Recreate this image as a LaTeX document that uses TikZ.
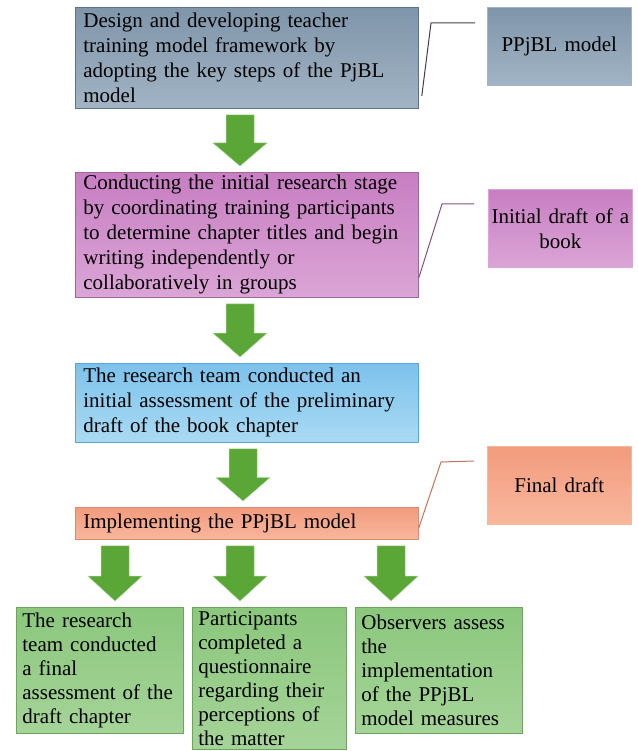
\documentclass[tikz,border=0pt]{standalone}
\usepackage{fontspec}
\setmainfont{Liberation Serif}
\usetikzlibrary{calc}
\definecolor{slateA}{HTML}{7F95AA}
\definecolor{slateB}{HTML}{A2B4C4}
\definecolor{slateD}{HTML}{5E7184}
\definecolor{orchidA}{HTML}{C77EC2}
\definecolor{orchidB}{HTML}{DBA5D6}
\definecolor{orchidD}{HTML}{A365A0}
\definecolor{skyA}{HTML}{7CC2EC}
\definecolor{skyB}{HTML}{AADAF3}
\definecolor{skyD}{HTML}{5BA6D6}
\definecolor{salmonA}{HTML}{F39B7D}
\definecolor{salmonB}{HTML}{F8B79D}
\definecolor{salmonD}{HTML}{DE8A6D}
\definecolor{leafA}{HTML}{8BC77D}
\definecolor{leafB}{HTML}{A5D498}
\definecolor{leafD}{HTML}{6AA65C}
\definecolor{arrowgreen}{HTML}{5AA637}
% block arrow: x position, upper node, lower node
\newcommand{\greenarrow}[3]{%
  \fill[arrowgreen,draw=arrowgreen!50!white,line width=0.5pt]
    let \p1=(#2.south), \p2=(#3.north) in
    ({#1pt-14pt},{\y1-6pt}) -- ({#1pt+14pt},{\y1-6pt})
    -- ({#1pt+14pt},{\y1-6pt+0.55*(\y2-\y1+12pt)}) -- ({#1pt+27pt},{\y1-6pt+0.55*(\y2-\y1+12pt)})
    -- ({#1pt},{\y2+6pt})
    -- ({#1pt-27pt},{\y1-6pt+0.55*(\y2-\y1+12pt)}) -- ({#1pt-14pt},{\y1-6pt+0.55*(\y2-\y1+12pt)}) -- cycle;}
\begin{document}
\begin{tikzpicture}[x=1pt,y=-1pt,
  mainbox/.style={anchor=north west,text width=327pt,inner xsep=8pt,inner ysep=2pt,align=left,
    font=\fontsize{21}{25}\selectfont,line width=0.8pt},
  sidebox/.style={anchor=north west,text width=140pt,inner xsep=2pt,minimum height=78pt,align=center,
    font=\fontsize{21}{25}\selectfont,line width=0.6pt},
  leafbox/.style={anchor=north west,inner xsep=6pt,inner ysep=4pt,align=left,
    top color=leafA,bottom color=leafB,draw=leafD,line width=0.8pt,
    font=\fontsize{21}{24}\selectfont},
  callout/.style={line width=1pt}]
\useasboundingbox (0,0) rectangle (637,751);
\clip (0,0) rectangle (637,751);
% main column
\node[mainbox,top color=slateA,bottom color=slateB,draw=slateD,minimum height=101pt] (frame) at (75,7)
  {Design and developing teacher\\training model framework by\\adopting the key steps of the PjBL\\model};
\node[mainbox,top color=orchidA,bottom color=orchidB,draw=orchidD,minimum height=125pt] (stage) at (75,172)
  {Conducting the initial research stage\\by coordinating training participants\\to determine chapter titles and begin\\writing independently or\\collaboratively in groups};
\node[mainbox,top color=skyA,bottom color=skyB,draw=skyD,minimum height=79pt] (assess) at (75,363)
  {The research team conducted an\\initial assessment of the preliminary\\draft of the book chapter};
\node[mainbox,top color=salmonA,bottom color=salmonB,draw=salmonD,minimum height=32pt] (impl) at (75,507)
  {Implementing the PPjBL model};
% outputs
\node[sidebox,top color=slateA,bottom color=slateB,draw=slateB] (ppjbl) at (487,7) {PPjBL model};
\node[sidebox,top color=orchidA,bottom color=orchidB,draw=orchidB] (initdraft) at (488,189) {Initial draft of a\\book};
\node[sidebox,top color=salmonA,bottom color=salmonB,draw=salmonB] (finaldraft) at (487,446) {Final draft};
\draw[callout,black!75] ($(frame.south east)+(3,-13)$) -- ($(ppjbl.north west)+(-56,16)$) -- ($(ppjbl.north west)+(-12,16)$);
\draw[callout,orchidD!80!black] ($(stage.south east)+(0,-20)$) -- ($(initdraft.north west)+(-46,15)$) -- ($(initdraft.north west)+(-14,15)$);
\draw[callout,salmonD!85!black] ($(impl.south east)+(0,-12)$) -- ($(finaldraft.north west)+(-46,16)$) -- ($(finaldraft.north west)+(-13,15)$);
% evaluation boxes
\node[leafbox,text width=155pt,minimum height=126pt] (finalcheck) at (16,607)
  {The research\\team conducted\\a final\\assessment of the\\draft chapter};
\node[leafbox,text width=142pt] (survey) at (192,607)
  {Participants\\completed a\\questionnaire\\regarding their\\perceptions of\\the matter};
\node[leafbox,text width=155pt,minimum height=126pt] (observe) at (355,607)
  {Observers assess\\the\\implementation\\of the PPjBL\\model measures};
% arrows
\greenarrow{240}{frame}{stage}
\greenarrow{240}{stage}{assess}
\greenarrow{243}{assess}{impl}
\greenarrow{115}{impl}{finalcheck}
\greenarrow{240}{impl}{survey}
\greenarrow{391}{impl}{observe}
\end{tikzpicture}
\end{document}
